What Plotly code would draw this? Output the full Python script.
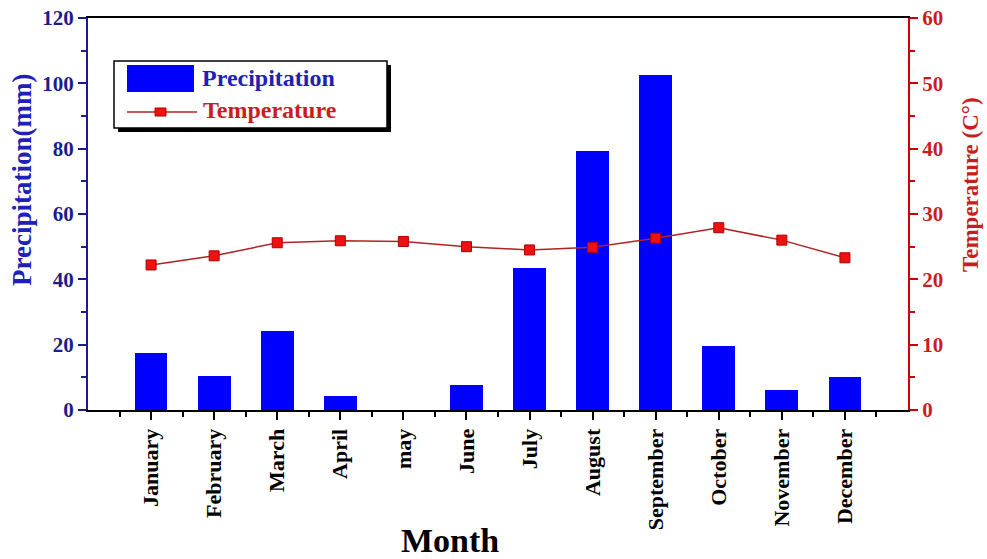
import plotly.graph_objects as go

# Monthly climate data
months = ["January", "February", "March", "April", "may", "June",
          "July", "August", "September", "October", "November", "December"]
month_pos = list(range(1, 13))
precipitation = [17.4, 10.4, 24.2, 4.3, 0.0, 7.6, 43.5, 79.2, 102.5, 19.6, 6.1, 10.1]
temperature = [22.2, 23.6, 25.6, 25.9, 25.8, 25.0, 24.5, 24.9, 26.3, 27.9, 26.0, 23.3]

W, H = 987, 559
ML, MR, MT, MB = 88, 79, 18, 149
PW, PH = W - ML - MR, H - MT - MB

BLUE = "#0000ff"
NAVY = "#1c1c8c"
RED_AX = "#cc0000"
RED_TXT = "#c81e1e"
FONT = "Liberation Serif"


def px(x):
    return (x - ML) / PW


def py(y):
    return (H - MB - y) / PH


fig = go.Figure()

fig.add_trace(go.Bar(
    x=month_pos, y=precipitation, width=0.52, name="Precipitation",
    marker=dict(color=BLUE, line=dict(width=0)),
    showlegend=False,
))

fig.add_trace(go.Scatter(
    x=month_pos, y=temperature, yaxis="y2", mode="lines+markers",
    name="Temperature",
    line=dict(color="#b22222", width=1.5),
    marker=dict(symbol="square", size=10, color="#ee1111",
                line=dict(color="#b00000", width=1)),
    showlegend=False,
))

fig.update_layout(
    width=W, height=H,
    margin=dict(l=ML, r=MR, t=MT, b=MB),
    paper_bgcolor="white", plot_bgcolor="white",
    bargap=0,
    xaxis=dict(
        range=[0, 13], tickvals=month_pos, ticktext=months, tickangle=-90,
        tickfont=dict(family=FONT, size=22, weight="bold", color="black"),
        showline=True, linecolor="black", linewidth=2, mirror=True,
        ticks="outside", ticklen=8, tickwidth=2, tickcolor="black",
        minor=dict(tickvals=[p - 0.5 for p in month_pos] + [12.5],
                   ticks="outside", ticklen=5, tickwidth=2, tickcolor="black"),
        showgrid=False, zeroline=False, automargin=False,
    ),
    yaxis=dict(
        range=[0, 120], dtick=20, tick0=0,
        tickfont=dict(family=FONT, size=21, weight="bold", color=NAVY),
        showline=True, linecolor=NAVY, linewidth=2,
        ticks="outside", ticklen=8, tickwidth=2, tickcolor=NAVY,
        minor=dict(dtick=10, ticks="outside", ticklen=5, tickwidth=2, tickcolor=NAVY),
        showgrid=False, zeroline=False, automargin=False,
    ),
    yaxis2=dict(
        range=[0, 60], dtick=10, tick0=0, overlaying="y", side="right",
        tickfont=dict(family=FONT, size=21, weight="bold", color=RED_TXT),
        showline=True, linecolor=RED_AX, linewidth=2,
        ticks="outside", ticklen=8, tickwidth=2, tickcolor=RED_AX,
        minor=dict(dtick=5, ticks="outside", ticklen=5, tickwidth=2, tickcolor=RED_AX),
        showgrid=False, zeroline=False, automargin=False,
    ),
)

# Axis titles
fig.add_annotation(text="Month", xref="paper", yref="paper",
                   x=px(450), y=py(540), xanchor="center", yanchor="middle",
                   showarrow=False,
                   font=dict(family=FONT, size=34, weight="bold", color="black"))
fig.add_annotation(text="Precipitation(mm)", xref="paper", yref="paper",
                   x=px(22), y=py(180), xanchor="center", yanchor="middle",
                   textangle=-90, showarrow=False,
                   font=dict(family=FONT, size=27, weight="bold", color="#2020b8"))
fig.add_annotation(text="Temperature (C°)", xref="paper", yref="paper",
                   x=px(971), y=py(185), xanchor="center", yanchor="middle",
                   textangle=-90, showarrow=False,
                   font=dict(family=FONT, size=23, weight="bold", color=RED_TXT))

# Legend box with drop shadow
shapes = [
    dict(type="rect", xref="paper", yref="paper",
         x0=px(118), x1=px(391), y0=py(132), y1=py(65),
         fillcolor="black", line=dict(width=0), layer="above"),
    dict(type="rect", xref="paper", yref="paper",
         x0=px(114), x1=px(387), y0=py(128), y1=py(61),
         fillcolor="white", line=dict(color="black", width=1.5), layer="above"),
    dict(type="rect", xref="paper", yref="paper",
         x0=px(127), x1=px(194), y0=py(92), y1=py(65),
         fillcolor=BLUE, line=dict(width=0), layer="above"),
    dict(type="line", xref="paper", yref="paper",
         x0=px(127), x1=px(197), y0=py(112), y1=py(112),
         line=dict(color="#b22222", width=1.5), layer="above"),
    dict(type="rect", xref="paper", yref="paper",
         x0=px(155), x1=px(166), y0=py(116), y1=py(108),
         fillcolor="#ee1111", line=dict(color="#b00000", width=1), layer="above"),
]
fig.update_layout(shapes=shapes)

fig.add_annotation(text="Precipitation", xref="paper", yref="paper",
                   x=px(200), y=py(78), xanchor="left", yanchor="middle",
                   showarrow=False,
                   font=dict(family=FONT, size=24, weight="bold", color="#2020b8"))
fig.add_annotation(text="Temperature", xref="paper", yref="paper",
                   x=px(201), y=py(110), xanchor="left", yanchor="middle",
                   showarrow=False,
                   font=dict(family=FONT, size=24, weight="bold", color=RED_TXT))

fig.write_html("out.html")
